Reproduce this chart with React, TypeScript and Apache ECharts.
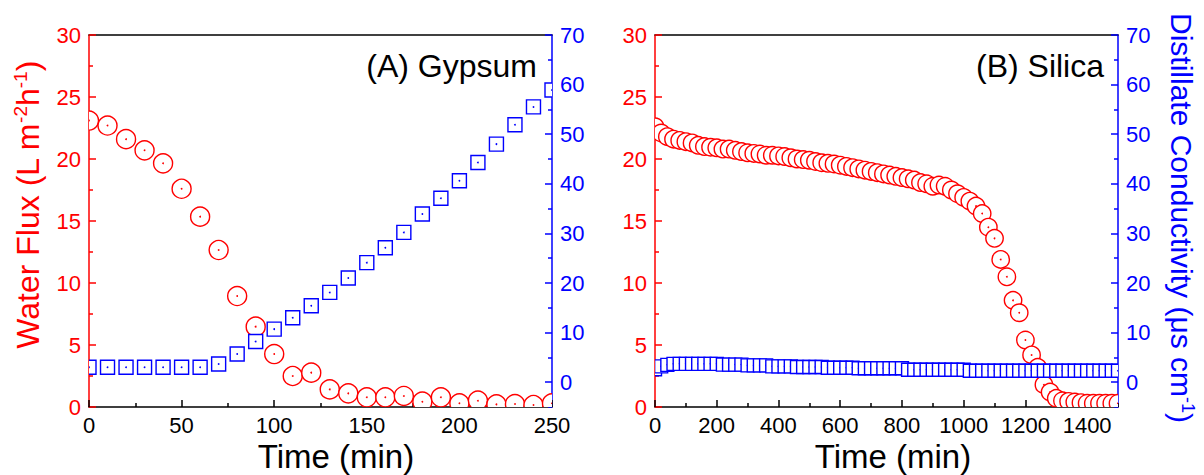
import React, { useEffect, useRef } from 'react';
import * as echarts from 'echarts';

// (A) Gypsum: sampled every 10 min
const gypsumTime = [0, 10, 20, 30, 40, 50, 60, 70, 80, 90, 100, 110, 120, 130, 140, 150, 160, 170, 180, 190, 200, 210, 220, 230, 240, 250];
const gypsumFlux = [23.1, 22.7, 21.6, 20.7, 19.65, 17.6, 15.35, 12.66, 8.95, 6.48, 4.27, 2.5, 2.77, 1.42, 1.1, 0.78, 0.78, 0.89, 0.43, 0.78, 0.3, 0.51, 0.21, 0.24, 0.16, 0.3];
const gypsumCond = [3.0, 3.0, 3.0, 3.0, 3.0, 3.0, 3.0, 3.67, 5.7, 8.2, 10.7, 13.0, 15.4, 18.1, 21.0, 24.1, 27.1, 30.2, 33.9, 37.1, 40.6, 44.3, 48.0, 51.9, 55.5, 58.9];

// (B) Silica: sampled every 20 min
const silicaTime = [
  0, 20, 40, 60, 80, 100, 120, 140, 160, 180, 200, 220, 240, 260, 280, 300, 320, 340, 360, 380,
  400, 420, 440, 460, 480, 500, 520, 540, 560, 580, 600, 620, 640, 660, 680, 700, 720, 740, 760, 780,
  800, 820, 840, 860, 880, 900, 920, 940, 960, 980, 1000, 1020, 1040, 1060, 1080, 1100, 1120, 1140, 1160, 1180,
  1200, 1220, 1240, 1260, 1280, 1300, 1320, 1340, 1360, 1380, 1400, 1420, 1440, 1460, 1480, 1500,
];
const silicaFlux = [
  22.6, 22.1, 21.8, 21.6, 21.5, 21.4, 21.3, 21.1, 21.0, 20.95, 20.9, 20.8, 20.8, 20.7, 20.6, 20.5, 20.45, 20.4, 20.3, 20.3,
  20.25, 20.2, 20.1, 20.0, 19.95, 19.9, 19.8, 19.7, 19.65, 19.6, 19.5, 19.4, 19.3, 19.2, 19.1, 19.0, 18.9, 18.8, 18.7, 18.6,
  18.5, 18.4, 18.3, 18.1, 18.0, 17.8, 17.9, 17.8, 17.5, 17.2, 16.9, 16.6, 16.2, 15.6, 14.5, 13.6, 11.9, 10.5, 8.6, 7.6,
  5.4, 4.2, 3.2, 1.8, 1.2, 0.7, 0.5, 0.45, 0.4, 0.35, 0.3, 0.3, 0.3, 0.3, 0.3, 0.3,
];
const silicaCond = [
  2.6, 3.2, 3.5, 3.7, 3.7, 3.7, 3.7, 3.7, 3.7, 3.7, 3.7, 3.55, 3.55, 3.55, 3.55, 3.4, 3.4, 3.4, 3.4, 3.2,
  3.2, 3.2, 3.2, 3.05, 3.05, 3.05, 3.05, 3.05, 2.9, 2.9, 2.9, 2.9, 2.9, 2.8, 2.8, 2.8, 2.8, 2.8, 2.8, 2.8,
  2.8, 2.5, 2.5, 2.5, 2.5, 2.5, 2.5, 2.5, 2.5, 2.5, 2.5, 2.3, 2.3, 2.3, 2.3, 2.3, 2.3, 2.3, 2.3, 2.3,
  2.3, 2.3, 2.3, 2.3, 2.3, 2.3, 2.3, 2.3, 2.3, 2.3, 2.3, 2.3, 2.3, 2.3, 2.3, 2.3,
];

// Tick positions
const fluxMajor = [0, 5, 10, 15, 20, 25, 30];
const fluxMinor = [2.5, 7.5, 12.5, 17.5, 22.5, 27.5];
const condMajor = [0, 10, 20, 30, 40, 50, 60, 70];
const condMinor = [-5, 5, 15, 25, 35, 45, 55, 65];
const gypsumTimeMajor = [0, 50, 100, 150, 200, 250];
const gypsumTimeMinor = [25, 75, 125, 175, 225];
const silicaTimeMajor = [0, 200, 400, 600, 800, 1000, 1200, 1400];
const silicaTimeMinor = [100, 300, 500, 700, 900, 1100, 1300, 1500];

const RED = '#ff0000';
const BLUE = '#0000ff';
const BLACK = '#000000';
const FONT = 'Arial, "Liberation Sans", sans-serif';
const TICK_FONT = 22;
const PANEL_FONT = 32;
const XTITLE_FONT = 33;

const GRID_TOP = 35;
const GRID_H = 372;
const GRID_W = 463;
const GRID_LEFT = [89, 655];

const plain = (v: number) => String(v);

function xAxisPair(gridIndex: number, max: number, major: number[], minor: number[]) {
  const base = { type: 'value', gridIndex, min: 0, max, position: 'bottom', splitLine: { show: false } };
  return [
    {
      ...base,
      axisLine: { show: true, onZero: false, lineStyle: { color: BLACK, width: 1.5 } },
      axisTick: { show: true, inside: true, length: 7, customValues: major, lineStyle: { color: BLACK, width: 1.5 } },
      axisLabel: { show: true, customValues: major, formatter: plain, margin: 7, color: BLACK, fontSize: TICK_FONT, fontFamily: FONT, lineHeight: 22 },
    },
    {
      ...base,
      axisLine: { show: false, onZero: false },
      axisTick: { show: true, inside: true, length: 4, customValues: minor, lineStyle: { color: BLACK, width: 1.5 } },
      axisLabel: { show: false },
    },
    {
      ...base,
      position: 'top',
      axisLine: { show: true, onZero: false, lineStyle: { color: BLACK, width: 1.5 } },
      axisTick: { show: false },
      axisLabel: { show: false },
    },
  ];
}

function yAxisPair(gridIndex: number, position: string, min: number, max: number, major: number[], minor: number[], color: string) {
  const base = { type: 'value', gridIndex, min, max, position, offset: 0, splitLine: { show: false } };
  return [
    {
      ...base,
      axisLine: { show: true, onZero: false, lineStyle: { color, width: 1.5 } },
      axisTick: { show: true, inside: true, length: 7, customValues: major, lineStyle: { color, width: 1.5 } },
      axisLabel: { show: true, customValues: major, formatter: plain, margin: 8, color, fontSize: TICK_FONT, fontFamily: FONT },
    },
    {
      ...base,
      axisLine: { show: false, onZero: false },
      axisTick: { show: true, inside: true, length: 4, customValues: minor, lineStyle: { color, width: 1.5 } },
      axisLabel: { show: false },
    },
  ];
}

function circleSeries(name: string, xAxisIndex: number, yAxisIndex: number, xs: number[], ys: number[], r: number) {
  return {
    name,
    type: 'custom',
    xAxisIndex,
    yAxisIndex,
    clip: true,
    z: 2,
    data: xs.map((x, i) => [x, ys[i]]),
    encode: { x: 0, y: 1 },
    renderItem: (_params: any, api: any) => {
      const p = api.coord([api.value(0), api.value(1)]);
      return {
        type: 'group',
        children: [
          { type: 'circle', shape: { cx: p[0], cy: p[1], r }, style: { fill: '#ffffff', stroke: RED, lineWidth: 1.4 } },
          { type: 'circle', shape: { cx: p[0], cy: p[1], r: 0.9 }, style: { fill: RED } },
        ],
      };
    },
  };
}

function squareSeries(name: string, xAxisIndex: number, yAxisIndex: number, xs: number[], ys: number[], side: number) {
  return {
    name,
    type: 'custom',
    xAxisIndex,
    yAxisIndex,
    clip: true,
    z: 3,
    data: xs.map((x, i) => [x, ys[i]]),
    encode: { x: 0, y: 1 },
    renderItem: (_params: any, api: any) => {
      const p = api.coord([api.value(0), api.value(1)]);
      return {
        type: 'group',
        children: [
          {
            type: 'rect',
            shape: { x: p[0] - side / 2, y: p[1] - side / 2, width: side, height: side },
            style: { fill: '#ffffff', stroke: BLUE, lineWidth: 1.4 },
          },
          { type: 'circle', shape: { cx: p[0], cy: p[1], r: 0.9 }, style: { fill: BLUE } },
        ],
      };
    },
  };
}

export default function App() {
  const ref = useRef<HTMLDivElement>(null);

  useEffect(() => {
    if (!ref.current) return;
    const chart = echarts.init(ref.current, undefined, { renderer: 'svg' });

    const grids = GRID_LEFT.map((left) => ({ left, top: GRID_TOP, width: GRID_W, height: GRID_H, containLabel: false }));

    const xAxis = [
      ...xAxisPair(0, 250, gypsumTimeMajor, gypsumTimeMinor), // 0,1,2
      ...xAxisPair(1, 1500, silicaTimeMajor, silicaTimeMinor), // 3,4,5
    ];
    const yAxis = [
      ...yAxisPair(0, 'left', 0, 30, fluxMajor, fluxMinor, RED), // 0,1
      ...yAxisPair(0, 'right', -5, 70, condMajor, condMinor, BLUE), // 2,3
      ...yAxisPair(1, 'left', 0, 30, fluxMajor, fluxMinor, RED), // 4,5
      ...yAxisPair(1, 'right', -5, 70, condMajor, condMinor, BLUE), // 6,7
    ];

    const timeTitle = { text: 'Time (min)', fontFamily: FONT, fontSize: XTITLE_FONT, lineHeight: 33, fill: BLACK, align: 'center', verticalAlign: 'middle' };

    chart.setOption({
      animation: false,
      backgroundColor: '#ffffff',
      grid: grids,
      xAxis,
      yAxis,
      series: [
        circleSeries('Gypsum flux', 0, 0, gypsumTime, gypsumFlux, 9.5),
        squareSeries('Gypsum conductivity', 0, 2, gypsumTime, gypsumCond, 14),
        circleSeries('Silica flux', 3, 4, silicaTime, silicaFlux, 8.7),
        squareSeries('Silica conductivity', 3, 6, silicaTime, silicaCond, 13),
      ],
      graphic: [
        {
          type: 'text',
          x: 537,
          y: 66,
          style: { text: '(A) Gypsum', fontFamily: FONT, fontSize: PANEL_FONT, fill: BLACK, align: 'right', verticalAlign: 'middle' },
        },
        {
          type: 'text',
          x: 1104,
          y: 66,
          style: { text: '(B) Silica', fontFamily: FONT, fontSize: PANEL_FONT, fill: BLACK, align: 'right', verticalAlign: 'middle' },
        },
        { type: 'text', x: 336, y: 456, style: timeTitle },
        { type: 'text', x: 893, y: 456, style: timeTitle },
        {
          type: 'text',
          x: 28,
          y: 205,
          rotation: Math.PI / 2,
          style: {
            text: '{t|Water Flux (L m}{s|-2}{t|h}{s|-1}{t|)}',
            fill: RED,
            align: 'center',
            verticalAlign: 'middle',
            rich: {
              t: { fontFamily: FONT, fontSize: 32, fill: RED, lineHeight: 34 },
              s: { fontFamily: FONT, fontSize: 19, verticalAlign: 'top', fill: RED },
            },
          },
        },
        {
          type: 'text',
          x: 1181,
          y: 218,
          rotation: -Math.PI / 2,
          style: {
            text: '{t|Distillate Conductivity (μs cm}{s|-1}{t|)}',
            fill: BLUE,
            align: 'center',
            verticalAlign: 'middle',
            rich: {
              t: { fontFamily: FONT, fontSize: 30, fill: BLUE, lineHeight: 32 },
              s: { fontFamily: FONT, fontSize: 18, verticalAlign: 'top', fill: BLUE },
            },
          },
        },
      ],
    });

    return () => chart.dispose();
  }, []);

  return (
    <div
      ref={ref}
      style={{ position: 'fixed', left: 0, top: 0, width: 1204, height: 475, background: '#ffffff' }}
    />
  );
}
